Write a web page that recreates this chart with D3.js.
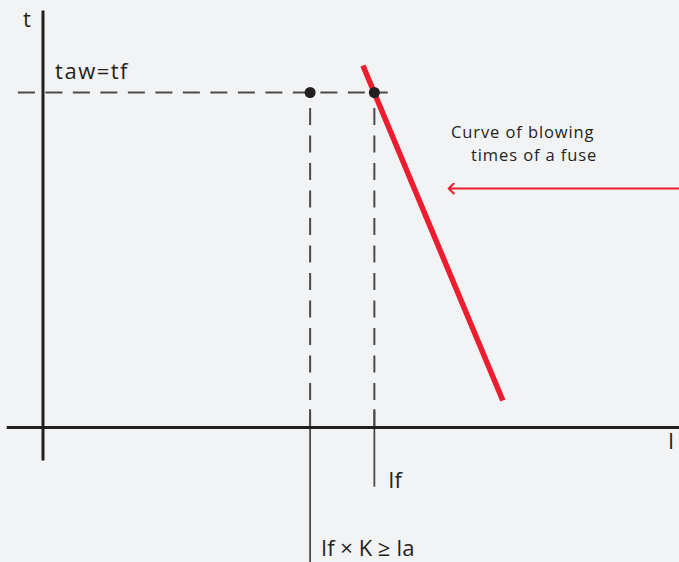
<!DOCTYPE html>
<html lang="en">
<head>
  <meta charset="UTF-8">
  <title>Fuse blowing time curve</title>
  <style>
    body { margin: 0; background: #f2f3f5; }
    svg { display: block; }
    text { font-family: "Open Sans", "DejaVu Sans", sans-serif; fill: #231f20; }
  </style>
</head>
<body>
  <svg id="chart" width="679" height="562"></svg>

  <script src="https://d3js.org/d3.v7.min.js"></script>
  <script>
    // schematic values (arbitrary units, current on x, time on y)
    const axisI = [-5.7, 100];          // extent of current axis
    const axisT = [-8.25, 104.25];      // extent of time axis
    const currentLabels = ["If × K ≥ Ia", "If"];
    const currentValues = [42.0, 52.1];
    const currentLabelDrop = [33.7, 14.8]; // how far below the axis each marker runs
    const tawLabel = "taw=tf";
    const tawValue = 83.75;
    const tawLineI = [-3.95, 54.2];
    const curveI = [50.3, 72.3];
    const curveT = [90.5, 6.75];
    const arrowI = [100, 63.8];
    const arrowT = 59.75;
    const curveNote = ["Curve of blowing", "times of a fuse"];

    const svg = d3.select("#chart");

    const x = d3.scaleLinear().domain([0, 100]).range([43, 679]);
    const y = d3.scaleLinear().domain([0, 100]).range([427.5, 27.5]);

    svg.append("defs").append("marker")
      .attr("id", "arrow")
      .attr("viewBox", "0 0 12 12")
      .attr("refX", 10.5).attr("refY", 6)
      .attr("markerWidth", 12).attr("markerHeight", 12)
      .attr("markerUnits", "userSpaceOnUse")
      .attr("orient", "auto")
      .append("path")
      .attr("d", "M5,0.5 L10.5,6 L5,11.5")
      .attr("fill", "none")
      .attr("stroke", "#ed1c2e")
      .attr("stroke-width", 2);

    // dashed projection of taw onto the curve
    svg.append("line")
      .attr("x1", x(tawLineI[0])).attr("x2", x(tawLineI[1]))
      .attr("y1", y(tawValue)).attr("y2", y(tawValue))
      .attr("stroke", "#4a4a4a")
      .attr("stroke-width", 2)
      .attr("stroke-dasharray", "17 10.5");

    // dashed verticals from each point down to the axis
    svg.selectAll(".drop")
      .data(currentValues)
      .enter()
      .append("line")
      .attr("class", "drop")
      .attr("x1", d => x(d)).attr("x2", d => x(d))
      .attr("y1", y(0)).attr("y2", y(tawValue))
      .attr("stroke", "#4a4a4a")
      .attr("stroke-width", 2)
      .attr("stroke-dasharray", "17 10.5");

    // solid markers below the axis
    svg.selectAll(".tick-mark")
      .data(currentValues)
      .enter()
      .append("line")
      .attr("class", "tick-mark")
      .attr("x1", d => x(d)).attr("x2", d => x(d))
      .attr("y1", y(4.6))
      .attr("y2", (d, i) => y(-currentLabelDrop[i]))
      .attr("stroke", "#4a4a4a")
      .attr("stroke-width", 1.8);

    // axes
    svg.append("line")
      .attr("x1", x(axisI[0])).attr("x2", x(axisI[1]))
      .attr("y1", y(0)).attr("y2", y(0))
      .attr("stroke", "#231f20").attr("stroke-width", 3);

    svg.append("line")
      .attr("x1", x(0)).attr("x2", x(0))
      .attr("y1", y(axisT[0])).attr("y2", y(axisT[1]))
      .attr("stroke", "#231f20").attr("stroke-width", 3);

    // fuse curve
    svg.append("line")
      .attr("x1", x(curveI[0])).attr("y1", y(curveT[0]))
      .attr("x2", x(curveI[1])).attr("y2", y(curveT[1]))
      .attr("stroke", "#ed1c2e")
      .attr("stroke-width", 5.5);

    // points on taw line
    svg.selectAll(".pt")
      .data(currentValues)
      .enter()
      .append("circle")
      .attr("class", "pt")
      .attr("cx", d => x(d))
      .attr("cy", y(tawValue))
      .attr("r", 5.5)
      .attr("fill", "#231f20");

    // arrow pointing at the curve
    svg.append("line")
      .attr("x1", x(arrowI[0])).attr("x2", x(arrowI[1]))
      .attr("y1", y(arrowT)).attr("y2", y(arrowT))
      .attr("stroke", "#ed1c2e")
      .attr("stroke-width", 2)
      .attr("marker-end", "url(#arrow)");

    svg.append("text")
      .attr("x", x(1.9))
      .attr("y", y(tawValue) - 14)
      .style("font-size", "22px")
      .style("letter-spacing", "1.5px")
      .text(tawLabel);

    svg.append("text")
      .attr("x", 23).attr("y", 27)
      .style("font-size", "22px")
      .text("t");

    svg.append("text")
      .attr("x", 668).attr("y", 449)
      .style("font-size", "22px")
      .text("I");

    svg.selectAll(".cur-label")
      .data(currentLabels)
      .enter()
      .append("text")
      .attr("class", "cur-label")
      .attr("x", (d, i) => x(currentValues[i]) + [11, 14][i])
      .attr("y", (d, i) => y(-currentLabelDrop[i]) + [-6, 1][i])
      .style("font-size", "22px")
      .text(d => d);

    svg.selectAll(".note")
      .data(curveNote)
      .enter()
      .append("text")
      .attr("class", "note")
      .attr("x", (d, i) => [451, 471][i])
      .attr("y", (d, i) => 138 + i * 23)
      .style("font-size", "16.5px")
      .style("letter-spacing", "0.9px")
      .text(d => d);
  </script>
</body>
</html>
